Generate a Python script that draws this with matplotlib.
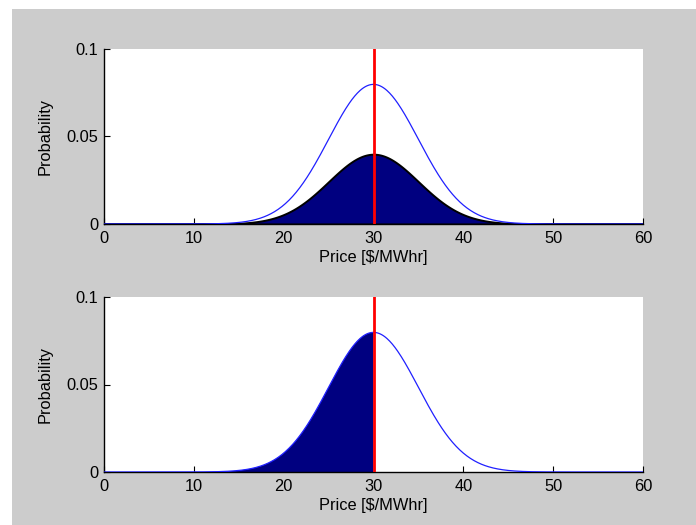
import matplotlib.pyplot as plt
import numpy as np
from matplotlib.patches import Rectangle

# Price distribution (normal), in $/MWhr
price_mean = 30.0
price_std = 5.0
price_range = [0, 60]
strike_price = 30.0
top_scale = 0.5  # scale of the filled area in the upper panel

x_ticks = [0, 10, 20, 30, 40, 50, 60]
y_ticks = [0, 0.05, 0.1]
y_tick_labels = ["0", "0.05", "0.1"]

plt.rcParams["font.family"] = ["Liberation Sans", "DejaVu Sans"]
plt.rcParams["font.size"] = 11.8

price = np.linspace(price_range[0], price_range[1], 601)
pdf = np.exp(-0.5 * ((price - price_mean) / price_std) ** 2) / (price_std * np.sqrt(2 * np.pi))

W, H = 696, 525
fig = plt.figure(figsize=(W / 100, H / 100), dpi=100, facecolor="white")
fig.patches.append(
    Rectangle((12 / W, 0), 1 - 12 / W, 1 - 9 / H, transform=fig.transFigure,
              facecolor="#cccccc", edgecolor="none", zorder=-10)
)


def style_axes(ax):
    ax.set_xlim(price_range)
    ax.set_ylim(0, 0.1)
    ax.set_xticks(x_ticks)
    ax.set_yticks(y_ticks)
    ax.set_yticklabels(y_tick_labels)
    ax.spines["top"].set_visible(False)
    ax.spines["right"].set_visible(False)
    for s in ["left", "bottom"]:
        ax.spines[s].set_linewidth(1.0)
    ax.tick_params(direction="in", length=4, width=0.8)
    ax.tick_params(axis="x", pad=5)
    ax.tick_params(axis="y", pad=4)
    ax.set_xlabel("Price [$/MWhr]", labelpad=3)
    ax.set_ylabel("Probability", labelpad=10)


left = 104 / W
width = (643 - 104) / W
height = (224 - 49) / H

# upper panel: scaled distribution filled under the full curve
ax1 = fig.add_axes([left, (H - 224) / H, width, height])
ax1.fill_between(price, 0, pdf * top_scale, facecolor="#000080", edgecolor="black",
                 linewidth=1.4, zorder=2)
ax1.plot(price, pdf, color="#2020ff", linewidth=0.9, zorder=3)
ax1.axvline(strike_price, color="red", linewidth=2, zorder=4)
style_axes(ax1)

# lower panel: distribution filled up to the strike price
ax2 = fig.add_axes([left, (H - 472) / H, width, height])
below = price <= strike_price
ax2.fill_between(price[below], 0, pdf[below], facecolor="#000080", edgecolor="none", zorder=2)
ax2.plot(price, pdf, color="#2020ff", linewidth=0.9, zorder=3)
ax2.axvline(strike_price, color="red", linewidth=2, zorder=4)
style_axes(ax2)

fig.savefig("out.png", dpi=100, facecolor=fig.get_facecolor())
